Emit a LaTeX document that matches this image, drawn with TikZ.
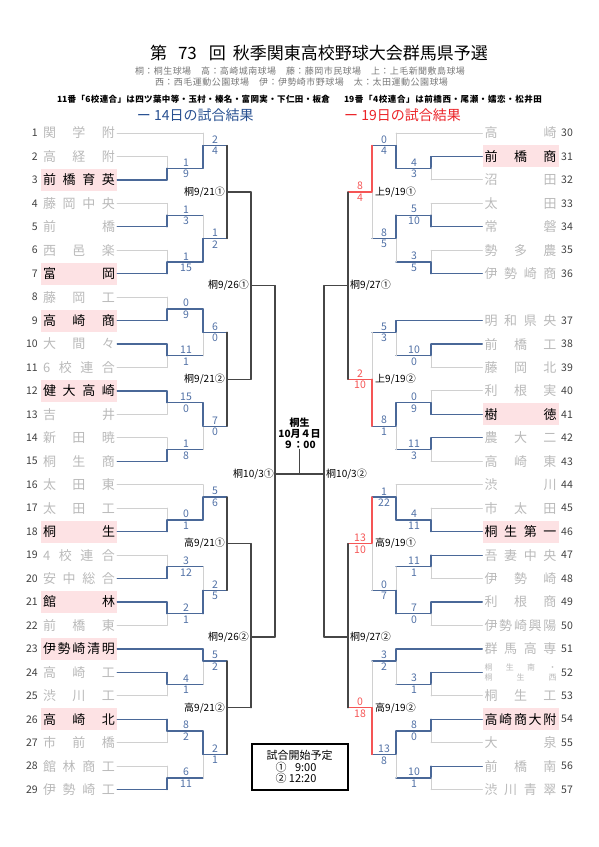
\documentclass[tikz,border=0pt]{standalone}
\usepackage{fontspec}
\setmainfont{Noto Sans CJK JP}
\usetikzlibrary{positioning,calc}

\definecolor{winblue}{RGB}{74,104,152}
\definecolor{scblue}{RGB}{80,112,165}
\definecolor{winred}{RGB}{245,85,85}
\definecolor{losegray}{RGB}{208,208,208}
\definecolor{tbddark}{RGB}{70,70,70}
\definecolor{alivepink}{RGB}{253,226,228}
\definecolor{namegray}{RGB}{185,185,185}
\definecolor{headblue}{RGB}{40,80,145}
\definecolor{headred}{RGB}{235,35,40}
\definecolor{venuegray}{RGB}{120,120,120}

\newcommand\fteam{\fontsize{13}{15}\selectfont}
\newcommand\fnum{\fontsize{10.5}{12}\selectfont}
\newcommand\fscore{\fontsize{10.5}{12}\selectfont}
\newcommand\fdate{\fontsize{10}{11}\selectfont}

% spread characters evenly over a given width
\def\spreadnext#1#2\endspread{#1\ifx\relax#2\relax\else\hfill\spreadnext#2\endspread\fi}
\newcommand\spreadto[2]{\makebox[#1][s]{\expandafter\spreadnext#2\endspread}}
\newcommand\spreadname[1]{\spreadto{72pt}{#1}}
% bracket edge: horizontal out of a child, then vertical into its match
\newcommand\bedge[4]{\draw[#3] (#1) -- (#1 -| #2);\draw[#4] (#1 -| #2) -- (#2);}
% score pair above / below the line leaving a match
\newcommand\mscore[5]{\path (#1) ++(#2,0) node[score,above,text=#5] (#1u) {#3} node[score,below,text=#5] (#1d) {#4};}

\begin{document}
\begin{tikzpicture}[
  x=1pt, y=-1pt,
  team/.style={minimum width=76pt, minimum height=22pt, inner sep=0pt, font=\fteam},
  alive/.style={fill=alivepink, text=black},
  gone/.style={text=namegray},
  num/.style={font=\fnum, text=black!75, inner sep=0pt},
  score/.style={font=\fscore, inner sep=1.8pt},
  dlab/.style={font=\fdate, inner sep=0pt},
  head/.style={inner sep=0pt},
  ln14/.style={draw=winblue, line width=1.2pt, line cap=round},
  ln19/.style={draw=winred, line width=1.4pt, line cap=round},
  lnx/.style={draw=losegray, line width=1pt, line cap=round},
  lnt/.style={draw=tbddark, line width=1.3pt, line cap=round}
]
\useasboundingbox (0,0) rectangle (599,847);

% ---- Header ----
\node[font=\fontsize{17}{19}\selectfont] (title) at (319,53)
  {第\hspace{11pt}73\hspace{12pt}回\hspace{7pt}秋季関東高校野球大会群馬県予選};
\node[head, font=\fontsize{9}{11}\selectfont, text=venuegray] (venue1) at (300,71.3)
  {\spreadto{330pt}{桐：桐生球場　高：高崎城南球場　藤：藤岡市民球場　上：上毛新聞敷島球場}};
\node[head, font=\fontsize{9}{11}\selectfont, text=venuegray] (venue2) at (301.5,82.3)
  {\spreadto{293pt}{西：西毛運動公園球場　伊：伊勢崎市野球場　太：太田運動公園球場}};
\node[head, font=\bfseries\fontsize{8.5}{11}\selectfont] (union1) at (193.5,99.7)
  {\spreadto{273pt}{{11}番「{6}校連合」は四ツ葉中等・玉村・榛名・富岡実・下仁田・板倉}};
\node[head, font=\bfseries\fontsize{8.5}{11}\selectfont] (union2) at (443,99.7)
  {\spreadto{198pt}{{19}番「{4}校連合」は前橋西・尾瀬・嬬恋・松井田}};
\node[head, font=\fontsize{14}{16}\selectfont, text=headblue, anchor=west] (key14) at (136.7,114.7) {ー 14日の試合結果};
\node[head, font=\fontsize{14}{16}\selectfont, text=headred, anchor=west] (key19) at (344,114.7) {ー 19日の試合結果};

% ---- Schools, left half (rows 1..29) ----
\foreach \n/\nm/\st in {1/関学附/gone, 2/高経附/gone, 3/前橋育英/alive, 4/藤岡中央/gone,
  5/前橋/gone, 6/西邑楽/gone, 7/富岡/alive, 8/藤岡工/gone, 9/高崎商/alive, 10/大間々/gone,
  11/6校連合/gone, 12/健大高崎/alive, 13/吉井/gone, 14/新田暁/gone, 15/桐生商/gone,
  16/太田東/gone, 17/太田工/gone, 18/桐生/alive, 19/4校連合/gone, 20/安中総合/gone,
  21/館林/alive, 22/前橋東/gone, 23/伊勢崎清明/alive, 24/高崎工/gone, 25/渋川工/gone,
  26/高崎北/alive, 27/市前橋/gone, 28/館林商工/gone, 29/伊勢崎工/gone} {
  \pgfmathsetmacro\yy{133+23.45*(\n-1)}
  \node[team,\st] (t\n) at (79,\yy) {\spreadname{\nm}};
  \node[num,anchor=east] (n\n) at (38,\yy) {\n};
}

% ---- Schools, right half (rows 30..57, gap after 36) ----
\foreach \n/\nm/\st in {30/高崎/gone, 31/前橋商/alive, 32/沼田/gone, 33/太田/gone,
  34/常磐/gone, 35/勢多農/gone, 36/伊勢崎商/gone, 37/明和県央/gone, 38/前橋工/gone,
  39/藤岡北/gone, 40/利根実/gone, 41/樹徳/alive, 42/農大二/gone, 43/高崎東/gone,
  44/渋川/gone, 45/市太田/gone, 46/桐生第一/alive, 47/吾妻中央/gone, 48/伊勢崎/gone,
  49/利根商/gone, 50/伊勢崎興陽/gone, 51/群馬高専/gone, 53/桐生工/gone,
  54/高崎商大附/alive, 55/大泉/gone, 56/前橋南/gone, 57/渋川青翠/gone} {
  \pgfmathsetmacro\yy{133+23.45*(\n-30+(\n>36))}
  \node[team,\st] (t\n) at (520.5,\yy) {\spreadname{\nm}};
  \node[num,anchor=west] (n\n) at (561,\yy) {\n};
}
% combined team: two small lines
\node[team,gone,font=\fontsize{8}{10.5}\selectfont,align=center] (t52) at (520.5,672.35)
  {\spreadname{桐生南・}\\\spreadname{桐生西}};
\node[num,anchor=west] (n52) at (561,672.35) {52};

% ---- Match points, left ----
\coordinate (a23) at (167,168.2);
\coordinate (a123) at (203,145.5);
\coordinate (a45) at (167,215.1);
\coordinate (a67) at (167,262);
\coordinate (a4567) at (203,238.5);
\coordinate (k921a) at (227,192);
\coordinate (a89) at (167,308.9);
\coordinate (a1011) at (167,355.8);
\coordinate (a811) at (203,332.3);
\coordinate (a1213) at (167,402.7);
\coordinate (a1415) at (167,449.6);
\coordinate (a1215) at (203,426.1);
\coordinate (k921b) at (227,379.2);
\coordinate (k926a) at (251,285.6);
\coordinate (a1718) at (167,519.9);
\coordinate (a1618) at (203,497);
\coordinate (a1920) at (167,566.8);
\coordinate (a2122) at (167,613.7);
\coordinate (a1922) at (203,590.3);
\coordinate (h921a) at (227,543.6);
\coordinate (a2425) at (167,684.1);
\coordinate (a2325) at (203,661);
\coordinate (a2627) at (167,731);
\coordinate (a2829) at (167,777.9);
\coordinate (a2629) at (203,754.4);
\coordinate (h921b) at (227,707.7);
\coordinate (k926b) at (251,637);
\coordinate (k103a) at (275,474);
\coordinate (fin) at (299.5,474);
\coordinate (k103b) at (324,474);

% ---- Match points, right ----
\coordinate (b3132) at (431,168.2);
\coordinate (b3032) at (396,145.5);
\coordinate (b3334) at (431,215.1);
\coordinate (b3536) at (431,262);
\coordinate (b3336) at (396,238.5);
\coordinate (u919a) at (372,192);
\coordinate (b3839) at (431,355.8);
\coordinate (b3739) at (396,332.3);
\coordinate (b4041) at (431,402.7);
\coordinate (b4243) at (431,449.6);
\coordinate (b4043) at (396,426.1);
\coordinate (u919b) at (372,379.2);
\coordinate (k927a) at (348,285.6);
\coordinate (b4546) at (431,519.9);
\coordinate (b4446) at (396,497);
\coordinate (b4748) at (431,566.8);
\coordinate (b4950) at (431,613.7);
\coordinate (b4750) at (396,590.3);
\coordinate (h919a) at (372,543.6);
\coordinate (b5253) at (431,684.1);
\coordinate (b5153) at (396,661);
\coordinate (b5455) at (431,731);
\coordinate (b5657) at (431,777.9);
\coordinate (b5457) at (396,754.4);
\coordinate (h919b) at (372,707.7);
\coordinate (k927b) at (348,637);

% ---- Bracket, left ----
\bedge{t1.east}{a123}{lnx}{lnx}
\bedge{t2.east}{a23}{lnx}{lnx}
\bedge{t3.east}{a23}{ln14}{ln14}
\bedge{a23}{a123}{ln14}{ln14}
\bedge{a123}{k921a}{ln14}{lnt}
\bedge{t4.east}{a45}{lnx}{lnx}
\bedge{t5.east}{a45}{ln14}{ln14}
\bedge{t6.east}{a67}{lnx}{lnx}
\bedge{t7.east}{a67}{ln14}{ln14}
\bedge{a45}{a4567}{ln14}{lnx}
\bedge{a67}{a4567}{ln14}{ln14}
\bedge{a4567}{k921a}{ln14}{lnt}
\bedge{k921a}{k926a}{lnt}{lnt}
\bedge{t8.east}{a89}{lnx}{lnx}
\bedge{t9.east}{a89}{ln14}{ln14}
\bedge{t10.east}{a1011}{ln14}{ln14}
\bedge{t11.east}{a1011}{lnx}{lnx}
\bedge{a89}{a811}{ln14}{ln14}
\bedge{a1011}{a811}{ln14}{lnx}
\bedge{a811}{k921b}{ln14}{lnt}
\bedge{t12.east}{a1213}{ln14}{ln14}
\bedge{t13.east}{a1213}{lnx}{lnx}
\bedge{t14.east}{a1415}{lnx}{lnx}
\bedge{t15.east}{a1415}{ln14}{ln14}
\bedge{a1213}{a1215}{ln14}{ln14}
\bedge{a1415}{a1215}{ln14}{lnx}
\bedge{a1215}{k921b}{ln14}{lnt}
\bedge{k921b}{k926a}{lnt}{lnt}
\bedge{k926a}{k103a}{lnt}{lnt}
\bedge{t16.east}{a1618}{lnx}{lnx}
\bedge{t17.east}{a1718}{lnx}{lnx}
\bedge{t18.east}{a1718}{ln14}{ln14}
\bedge{a1718}{a1618}{ln14}{ln14}
\bedge{a1618}{h921a}{ln14}{lnt}
\bedge{t19.east}{a1920}{lnx}{lnx}
\bedge{t20.east}{a1920}{ln14}{ln14}
\bedge{t21.east}{a2122}{ln14}{ln14}
\bedge{t22.east}{a2122}{lnx}{lnx}
\bedge{a1920}{a1922}{ln14}{lnx}
\bedge{a2122}{a1922}{ln14}{ln14}
\bedge{a1922}{h921a}{ln14}{lnt}
\bedge{h921a}{k926b}{lnt}{lnt}
\bedge{t23.east}{a2325}{ln14}{ln14}
\bedge{t24.east}{a2425}{ln14}{ln14}
\bedge{t25.east}{a2425}{lnx}{lnx}
\bedge{a2425}{a2325}{ln14}{lnx}
\bedge{a2325}{h921b}{ln14}{lnt}
\bedge{t26.east}{a2627}{ln14}{ln14}
\bedge{t27.east}{a2627}{lnx}{lnx}
\bedge{t28.east}{a2829}{lnx}{lnx}
\bedge{t29.east}{a2829}{ln14}{ln14}
\bedge{a2627}{a2629}{ln14}{ln14}
\bedge{a2829}{a2629}{ln14}{lnx}
\bedge{a2629}{h921b}{ln14}{lnt}
\bedge{h921b}{k926b}{lnt}{lnt}
\bedge{k926b}{k103a}{lnt}{lnt}

% ---- Bracket, right ----
\bedge{t30.west}{b3032}{lnx}{lnx}
\bedge{t31.west}{b3132}{ln14}{ln14}
\bedge{t32.west}{b3132}{lnx}{lnx}
\bedge{b3132}{b3032}{ln14}{ln14}
\bedge{b3032}{u919a}{ln14}{ln19}
\bedge{t33.west}{b3334}{lnx}{lnx}
\bedge{t34.west}{b3334}{ln14}{ln14}
\bedge{t35.west}{b3536}{lnx}{lnx}
\bedge{t36.west}{b3536}{ln14}{ln14}
\bedge{b3334}{b3336}{ln14}{ln14}
\bedge{b3536}{b3336}{ln14}{lnx}
\bedge{b3336}{u919a}{ln14}{lnx}
\bedge{u919a}{k927a}{ln19}{lnt}
\bedge{t37.west}{b3739}{ln14}{ln14}
\bedge{t38.west}{b3839}{ln14}{ln14}
\bedge{t39.west}{b3839}{lnx}{lnx}
\bedge{b3839}{b3739}{ln14}{lnx}
\bedge{b3739}{u919b}{ln14}{lnx}
\bedge{t40.west}{b4041}{lnx}{lnx}
\bedge{t41.west}{b4041}{ln14}{ln14}
\bedge{t42.west}{b4243}{ln14}{ln14}
\bedge{t43.west}{b4243}{lnx}{lnx}
\bedge{b4041}{b4043}{ln14}{ln14}
\bedge{b4243}{b4043}{ln14}{lnx}
\bedge{b4043}{u919b}{ln14}{ln19}
\bedge{u919b}{k927a}{ln19}{lnt}
\bedge{k927a}{k103b}{lnt}{lnt}
\bedge{t44.west}{b4446}{lnx}{lnx}
\bedge{t45.west}{b4546}{lnx}{lnx}
\bedge{t46.west}{b4546}{ln14}{ln14}
\bedge{b4546}{b4446}{ln14}{ln14}
\bedge{b4446}{h919a}{ln14}{ln19}
\bedge{t47.west}{b4748}{ln14}{ln14}
\bedge{t48.west}{b4748}{lnx}{lnx}
\bedge{t49.west}{b4950}{ln14}{ln14}
\bedge{t50.west}{b4950}{lnx}{lnx}
\bedge{b4748}{b4750}{ln14}{lnx}
\bedge{b4950}{b4750}{ln14}{ln14}
\bedge{b4750}{h919a}{ln14}{lnx}
\bedge{h919a}{k927b}{ln19}{lnt}
\bedge{t51.west}{b5153}{ln14}{ln14}
\bedge{t52.west}{b5253}{ln14}{ln14}
\bedge{t53.west}{b5253}{lnx}{lnx}
\bedge{b5253}{b5153}{ln14}{lnx}
\bedge{b5153}{h919b}{ln14}{lnx}
\bedge{t54.west}{b5455}{ln14}{ln14}
\bedge{t55.west}{b5455}{lnx}{lnx}
\bedge{t56.west}{b5657}{ln14}{ln14}
\bedge{t57.west}{b5657}{lnx}{lnx}
\bedge{b5455}{b5457}{ln14}{ln14}
\bedge{b5657}{b5457}{ln14}{lnx}
\bedge{b5457}{h919b}{ln14}{ln19}
\bedge{h919b}{k927b}{ln19}{lnt}
\bedge{k927b}{k103b}{lnt}{lnt}

% ---- Final ----
\node[font=\bfseries\fontsize{10}{11}\selectfont, align=center, inner sep=1pt] (fintxt) at (299.5,433)
  {桐生\\10月４日\\９：00};
\draw[lnt] (k103a) -- (fin) -- (k103b);
\draw[lnt] (fin) -- (fintxt.south);

% ---- Scores ----
\mscore{a23}{19}{1}{9}{scblue}
\mscore{a123}{12}{2}{4}{scblue}
\mscore{a45}{19}{1}{3}{scblue}
\mscore{a67}{19}{1}{15}{scblue}
\mscore{a4567}{12}{1}{2}{scblue}
\mscore{a89}{19}{0}{9}{scblue}
\mscore{a1011}{19}{11}{1}{scblue}
\mscore{a811}{12}{6}{0}{scblue}
\mscore{a1213}{19}{15}{0}{scblue}
\mscore{a1415}{19}{1}{8}{scblue}
\mscore{a1215}{12}{7}{0}{scblue}
\mscore{a1718}{19}{0}{1}{scblue}
\mscore{a1618}{12}{5}{6}{scblue}
\mscore{a1920}{19}{3}{12}{scblue}
\mscore{a2122}{19}{2}{1}{scblue}
\mscore{a1922}{12}{2}{5}{scblue}
\mscore{a2425}{19}{4}{1}{scblue}
\mscore{a2325}{12}{5}{2}{scblue}
\mscore{a2627}{19}{8}{2}{scblue}
\mscore{a2829}{19}{6}{11}{scblue}
\mscore{a2629}{12}{2}{1}{scblue}
\mscore{b3132}{-17}{4}{3}{scblue}
\mscore{b3032}{-12}{0}{4}{scblue}
\mscore{b3334}{-17}{5}{10}{scblue}
\mscore{b3536}{-17}{3}{5}{scblue}
\mscore{b3336}{-12}{8}{5}{scblue}
\mscore{u919a}{-12}{8}{4}{winred}
\mscore{b3839}{-17}{10}{0}{scblue}
\mscore{b3739}{-12}{5}{3}{scblue}
\mscore{b4041}{-17}{0}{9}{scblue}
\mscore{b4243}{-17}{11}{3}{scblue}
\mscore{b4043}{-12}{8}{1}{scblue}
\mscore{u919b}{-12}{2}{10}{winred}
\mscore{b4546}{-17}{4}{11}{scblue}
\mscore{b4446}{-12}{1}{22}{scblue}
\mscore{b4748}{-17}{11}{1}{scblue}
\mscore{b4950}{-17}{7}{0}{scblue}
\mscore{b4750}{-12}{0}{7}{scblue}
\mscore{h919a}{-12}{13}{10}{winred}
\mscore{b5253}{-17}{3}{1}{scblue}
\mscore{b5153}{-12}{3}{2}{scblue}
\mscore{b5455}{-17}{8}{0}{scblue}
\mscore{b5657}{-17}{10}{1}{scblue}
\mscore{b5457}{-12}{13}{8}{scblue}
\mscore{h919b}{-12}{0}{18}{winred}

% ---- Match dates ----
\node[dlab,left=2pt of k921a] (lk921a) {桐9/21①};
\node[dlab,left=2pt of k921b] (lk921b) {桐9/21②};
\node[dlab,left=2pt of h921a] (lh921a) {高9/21①};
\node[dlab,left=2pt of h921b] (lh921b) {高9/21②};
\node[dlab,left=2pt of k926a] (lk926a) {桐9/26①};
\node[dlab,left=2pt of k926b] (lk926b) {桐9/26②};
\node[dlab,left=1pt of k103a] (lk103a) {桐10/3①};
\node[dlab,right=2pt of k103b] (lk103b) {桐10/3②};
\node[dlab,right=2pt of k927a] (lk927a) {桐9/27①};
\node[dlab,right=2pt of k927b] (lk927b) {桐9/27②};
\node[dlab,right=3pt of u919a] (lu919a) {上9/19①};
\node[dlab,right=3pt of u919b] (lu919b) {上9/19②};
\node[dlab,right=3pt of h919a] (lh919a) {高9/19①};
\node[dlab,right=3pt of h919b] (lh919b) {高9/19②};

% ---- Start times ----
\node[draw=black, line width=2pt, minimum width=96pt, minimum height=46pt, inner sep=0pt,
  font=\fontsize{11}{11.5}\selectfont, align=left] (sched) at (299.5,767)
  {試合開始予定\\\hspace*{9pt}①\ \phantom{1}9:00\\\hspace*{9pt}②\ 12:20};

\end{tikzpicture}
\end{document}
